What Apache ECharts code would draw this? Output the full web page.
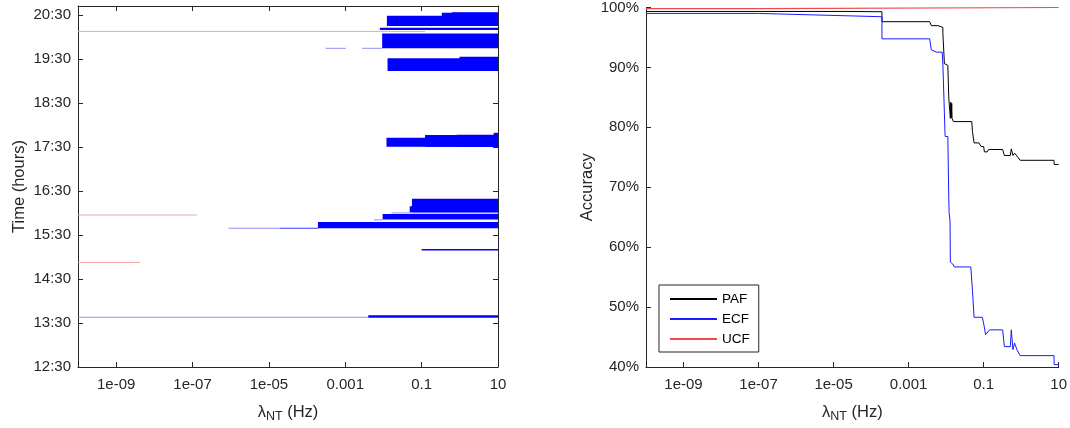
<!DOCTYPE html>
<html><head><meta charset="utf-8">
<script src="https://cdn.jsdelivr.net/npm/echarts@6/dist/echarts.min.js"></script>
<style>html,body{margin:0;padding:0;background:#fff}#c{width:1070px;height:428px}</style>
</head><body><div id="c"></div>
<script>
// ---------- tick labels ----------
const xTickHz = [1e-9, 1e-7, 1e-5, 1e-3, 0.1, 10];
const xTickLabels = ['1e-09', '1e-07', '1e-05', '0.001', '0.1', '10'];
const timeTicks = [12.5, 13.5, 14.5, 15.5, 16.5, 17.5, 18.5, 19.5, 20.5];
const timeTickLabels = ['12:30', '13:30', '14:30', '15:30', '16:30', '17:30', '18:30', '19:30', '20:30'];

// ---------- left panel: solid detection blocks (extend to right edge, 10 Hz) ----------
const blockStartHz = [0.0123, 0.337, 0.618, 0.00805, 0.00925, 0.0128, 0.98, 0.012, 0.123, 0.835, 7.7, 0.0558, 0.0487, 0.0095, 1.92e-4, 0.1, 0.004];
const blockFromH   = [20.243, 20.243, 20.243, 20.153, 19.739, 19.225, 19.225, 17.504, 17.504, 17.504, 17.504, 16.017, 16.017, 15.849, 15.652, 15.155, 13.616];
const blockToH     = [20.477, 20.545, 20.56, 20.205, 20.078, 19.512, 19.548, 17.708, 17.768, 17.775, 17.82, 16.319, 16.153, 15.978, 15.795, 15.18, 13.676];
const blockEndHz = 10;

// ---------- left panel: thin traces ----------
const traceStartHz = [3.06e-4, 2.76e-3, 0.0163, 0.0056, 8.8e-7, 1.89e-5, 1e-10, 1e-10, 1e-10, 1e-10];
const traceEndHz   = [1.03e-3, 0.00925, 10, 0.0095, 1.89e-5, 1.92e-4, 0.004, 0.123, 1.29e-7, 4.2e-9];
const traceTimeH   = [19.739, 19.739, 16.0, 15.842, 15.652, 15.652, 13.631, 20.123, 15.952, 14.875];
const traceKind    = ['light', 'light', 'light', 'light', 'light', 'mid', 'light', 'pink', 'pink', 'pink'];

// ---------- right panel: accuracy curves ----------
const pafHz  = [1e-10, 1.9e-5, 1.95e-4, 1.95e-4, 3.64e-3, 4.03e-3, 6.05e-3, 6.05e-3, 8.18e-3, 8.18e-3, 9.0e-3, 9.0e-3, 0.0111, 0.0118, 0.0118, 0.0127, 0.0130, 0.0133, 0.0137, 0.0141, 0.0144, 0.0156, 0.0483, 0.0504, 0.0556, 0.0752, 0.085, 0.1, 0.105, 0.125, 0.135, 0.322, 0.357, 0.514, 0.546, 0.605, 0.667, 0.771, 0.942, 7.5, 7.6, 10];
const pafAcc = [99.34, 99.34, 99.29, 97.63, 97.63, 96.97, 96.97, 96.69, 96.69, 95.86, 95.86, 90.63, 90.35, 90.35, 84.83, 84.55, 81.5, 84.2, 81.6, 84.0, 81.5, 80.96, 80.96, 79.3, 77.4, 77.4, 76.8, 76.8, 75.9, 75.9, 76.3, 76.3, 75.3, 75.3, 76.4, 75.3, 75.7, 75.2, 74.5, 74.5, 73.8, 73.8];
const ecfHz  = [1e-10, 1e-7, 1.9e-5, 1.95e-4, 1.95e-4, 3.64e-3, 4.03e-3, 5.46e-3, 7.85e-3, 8.18e-3, 9.02e-3, 9.41e-3, 0.0111, 0.0118, 0.0120, 0.0127, 0.0130, 0.0150, 0.0165, 0.0455, 0.0504, 0.0556, 0.0924, 0.102, 0.113, 0.125, 0.144, 0.322, 0.357, 0.514, 0.546, 0.605, 0.667, 0.771, 0.942, 7.5, 7.6, 10];
const ecfAcc = [99.01, 99.01, 98.63, 98.46, 94.77, 94.77, 92.95, 92.55, 92.55, 90.74, 90.63, 78.48, 78.48, 67.9, 65.8, 64.4, 57.5, 57.2, 56.7, 56.7, 52.8, 48.3, 48.3, 47.0, 45.4, 45.4, 46.2, 46.2, 43.4, 43.4, 46.2, 42.9, 44.0, 42.9, 41.9, 41.9, 40.4, 40.4];
const ucfHz  = [1e-10, 1.3e-7, 1.4e-7, 10];
const ucfAcc = [99.8, 99.8, 100, 100];

// ---------- build ----------
const LG = Math.log10;
const AX = '#262626';
const FONT = '"Liberation Sans", Arial, Helvetica, sans-serif';
const xTickLog = xTickHz.map(LG);
function xFmt(v) {
  for (let i = 0; i < xTickLog.length; i++) if (Math.abs(v - xTickLog[i]) < 1e-6) return xTickLabels[i];
  return '';
}
function tFmt(v) {
  for (let i = 0; i < timeTicks.length; i++) if (Math.abs(v - timeTicks[i]) < 1e-6) return timeTickLabels[i];
  return '';
}
const traceColors = { light: '#8f8fff', mid: '#3a3aff', pink: '#f3a2a2' };

const blockData = blockStartHz.map((s, i) => [LG(s), LG(blockEndHz), blockFromH[i], blockToH[i]]);
const traceData = traceStartHz.map((s, i) => [LG(s), LG(traceEndHz[i]), traceTimeH[i], i]);
const zip = (xs, ys) => xs.map((x, i) => [LG(x), ys[i]]);

const lineStyleAx = { color: AX, width: 1 };
const tickCommon = { inside: true, length: 5, lineStyle: { color: AX, width: 1 } };
const labelCommon = { color: AX, fontSize: 15, fontFamily: FONT };
const xName = '{l|λ}{s|NT}{l| (Hz)}';
const xNameStyle = {
  color: AX, fontFamily: FONT,
  rich: {
    l: { fontSize: 16.5, fontFamily: FONT, color: AX },
    s: { fontSize: 12.5, fontFamily: FONT, color: AX, padding: [9, 0, 0, 0] }
  }
};

function xAxisMain(grid) {
  return {
    type: 'value', gridIndex: grid, min: -10, max: 1, position: 'bottom',
    axisLine: { show: true, onZero: false, lineStyle: lineStyleAx },
    axisTick: Object.assign({ customValues: xTickLog }, tickCommon),
    axisLabel: Object.assign({ customValues: xTickLog, formatter: xFmt, margin: 10 }, labelCommon),
    splitLine: { show: false },
    name: xName, nameLocation: 'middle', nameGap: 34, nameTextStyle: xNameStyle
  };
}

const option = {
  animation: false,
  backgroundColor: '#ffffff',
  textStyle: { fontFamily: FONT },
  grid: [
    { left: 78, top: 6, width: 420, height: 363, containLabel: false },
    { left: 646, top: 7, width: 418, height: 362, containLabel: false }
  ],
  xAxis: [
    xAxisMain(0),
    { type: 'value', gridIndex: 0, min: -10, max: 1, position: 'top',
      axisLine: { show: true, onZero: false, lineStyle: lineStyleAx },
      axisTick: Object.assign({ customValues: xTickLog }, tickCommon),
      axisLabel: { show: false }, splitLine: { show: false } },
    xAxisMain(1)
  ],
  yAxis: [
    { type: 'value', gridIndex: 0, min: 12.5, max: 20.7, position: 'left',
      axisLine: { show: true, onZero: false, lineStyle: lineStyleAx },
      axisTick: Object.assign({ customValues: timeTicks }, tickCommon),
      axisLabel: Object.assign({ customValues: timeTicks, formatter: tFmt, margin: 7 }, labelCommon),
      splitLine: { show: false },
      name: 'Time (hours)', nameLocation: 'middle', nameGap: 50,
      nameTextStyle: { fontSize: 16.5, color: AX, fontFamily: FONT } },
    { type: 'value', gridIndex: 0, min: 12.5, max: 20.7, position: 'right',
      axisLine: { show: true, onZero: false, lineStyle: lineStyleAx },
      axisTick: Object.assign({ customValues: timeTicks }, tickCommon),
      axisLabel: { show: false }, splitLine: { show: false } },
    { type: 'value', gridIndex: 1, min: 40, max: 100, interval: 10, position: 'left',
      axisLine: { show: true, onZero: false, lineStyle: lineStyleAx },
      axisTick: tickCommon,
      axisLabel: Object.assign({ formatter: '{value}%', margin: 7 }, labelCommon),
      splitLine: { show: false },
      name: 'Accuracy', nameLocation: 'middle', nameGap: 50,
      nameTextStyle: { fontSize: 16.5, color: AX, fontFamily: FONT } }
  ],
  legend: {
    orient: 'vertical', left: 659, top: 285,
    data: ['PAF', 'ECF', 'UCF'],
    backgroundColor: '#ffffff', borderColor: AX, borderWidth: 1,
    padding: [7, 9, 6, 10], itemGap: 6, itemWidth: 47, itemHeight: 14,
    itemStyle: { opacity: 0, color: 'transparent', borderWidth: 0 },
    textStyle: { fontSize: 13.5, color: '#000', fontFamily: FONT }
  },
  series: [
    {
      type: 'custom', xAxisIndex: 0, yAxisIndex: 0, clip: true,
      data: blockData,
      renderItem: function (params, api) {
        const p0 = api.coord([api.value(0), api.value(3)]);
        const p1 = api.coord([api.value(1), api.value(2)]);
        return { type: 'rect', shape: { x: p0[0], y: p0[1], width: p1[0] - p0[0], height: Math.max(1.5, p1[1] - p0[1]) },
                 style: { fill: '#0000ff' } };
      }
    },
    {
      type: 'custom', xAxisIndex: 0, yAxisIndex: 0, clip: true,
      data: traceData,
      renderItem: function (params, api) {
        const p0 = api.coord([api.value(0), api.value(2)]);
        const p1 = api.coord([api.value(1), api.value(2)]);
        const k = traceKind[api.value(3)];
        return { type: 'line', shape: { x1: p0[0], y1: p0[1], x2: p1[0], y2: p1[1] },
                 style: { stroke: traceColors[k], lineWidth: 1 } };
      },
      z: 1
    },
    { name: 'PAF', type: 'line', xAxisIndex: 2, yAxisIndex: 2, data: zip(pafHz, pafAcc),
      symbol: 'none', clip: false, lineStyle: { color: '#000000', width: 1 }, itemStyle: { color: '#000000' } },
    { name: 'ECF', type: 'line', xAxisIndex: 2, yAxisIndex: 2, data: zip(ecfHz, ecfAcc),
      symbol: 'none', clip: false, lineStyle: { color: '#1a1aff', width: 1 }, itemStyle: { color: '#1a1aff' } },
    { name: 'UCF', type: 'line', xAxisIndex: 2, yAxisIndex: 2, data: zip(ucfHz, ucfAcc),
      symbol: 'none', clip: false, lineStyle: { color: '#f04a4a', width: 1.2 }, itemStyle: { color: '#f07070' } }
  ]
};

const chart = echarts.init(document.getElementById('c'), null, { renderer: 'canvas' });
chart.setOption(option);
</script>
</body></html>
